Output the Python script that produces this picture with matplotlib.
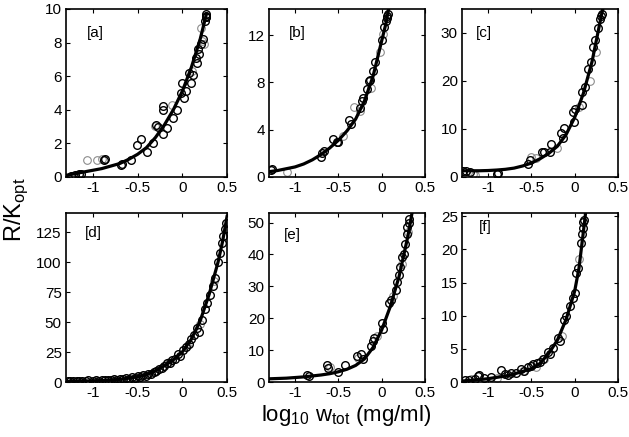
import matplotlib
matplotlib.use("Agg")
import matplotlib.pyplot as plt

plt.rcParams['font.family'] = ['Liberation Sans', 'DejaVu Sans']

# ---- panel a ----
curve_a_x = [-1.3, -1.2, -1.1, -1.0, -0.9, -0.8, -0.7, -0.6, -0.5, -0.4, -0.3, -0.2, -0.1, 0.0, 0.1, 0.2, 0.27]
curve_a_y = [0.1, 0.2, 0.3, 0.4, 0.5, 0.65, 0.8, 1.05, 1.35, 1.75, 2.35, 3.1, 4.0, 5.1, 6.5, 8.2, 9.7]
pts_a_x = [-1.24, -1.2, -1.15, -1.13, -0.87, -0.86, -0.68, -0.67, -0.57, -0.51, -0.46, -0.40, -0.33, -0.29,
           -0.27, -0.22, -0.21, -0.22, -0.17, -0.10, -0.06, -0.01, 0.0, 0.02, 0.04, 0.08, 0.10, 0.12, 0.15,
           0.17, 0.18, 0.19, 0.21, 0.23, 0.25, 0.26, 0.26, 0.27, 0.27]
pts_a_y = [0.08, 0.1, 0.2, 0.15, 1.0, 1.05, 0.7, 0.75, 1.0, 1.9, 2.25, 1.5, 2.0, 3.1, 3.0, 2.55, 4.2, 4.0,
           2.9, 3.5, 4.0, 5.0, 5.6, 4.7, 5.1, 6.2, 5.6, 6.1, 7.1, 6.8, 7.6, 7.3, 7.9, 8.2, 9.3, 9.5, 9.6, 9.7, 9.5]
gray_a_x = [-1.06, -0.95, -0.9, -0.3, -0.12, 0.11, 0.21, 0.24, 0.22]
gray_a_y = [1.0, 1.0, 1.05, 3.05, 4.3, 6.3, 8.85, 7.9, 8.1]

# ---- panel b ----
curve_b_x = [-1.3, -1.2, -1.1, -1.0, -0.9, -0.8, -0.7, -0.6, -0.5, -0.4, -0.3, -0.2, -0.1, 0.0, 0.05, 0.08]
curve_b_y = [0.45, 0.55, 0.7, 0.85, 1.1, 1.45, 1.9, 2.45, 3.1, 3.9, 4.9, 6.4, 8.5, 11.5, 13.0, 14.2]
pts_b_x = [-1.28, -1.26, -0.70, -0.69, -0.67, -0.56, -0.52, -0.50, -0.38, -0.35, -0.25, -0.23, -0.21, -0.17,
           -0.15, -0.13, -0.10, -0.08, 0.0, 0.03, 0.05, 0.06, 0.065, 0.07]
pts_b_y = [0.6, 0.65, 1.7, 2.0, 2.2, 3.2, 3.0, 2.95, 4.8, 4.5, 5.8, 6.4, 6.65, 7.4, 8.1, 8.2, 9.0, 9.7,
           11.6, 12.7, 13.2, 13.4, 13.6, 13.8]
gray_b_x = [-1.09, -0.45, -0.32, -0.25, -0.02, 0.01, -0.12]
gray_b_y = [0.45, 3.5, 5.9, 5.6, 10.6, 12.1, 7.5]

# ---- panel c ----
curve_c_x = [-1.3, -1.2, -1.1, -1.0, -0.9, -0.8, -0.7, -0.6, -0.5, -0.4, -0.3, -0.2, -0.1, 0.0, 0.1, 0.2, 0.3, 0.33]
curve_c_y = [1.3, 1.3, 1.3, 1.35, 1.45, 1.6, 1.85, 2.3, 2.9, 3.8, 4.9, 6.4, 8.8, 12.4, 17.4, 24.0, 32.9, 35.5]
pts_c_x = [-1.29, -1.25, -1.21, -0.9, -0.88, -0.54, -0.52, -0.38, -0.35, -0.29, -0.27, -0.16, -0.13, -0.12,
           -0.02, -0.01, 0.0, 0.08, 0.08, 0.12, 0.15, 0.19, 0.21, 0.24, 0.27, 0.29, 0.3, 0.31]
pts_c_y = [1.15, 1.2, 1.1, 0.6, 0.9, 2.7, 3.6, 5.2, 5.2, 5.2, 6.9, 9.2, 8.1, 10.3, 13.5, 11.5, 14.2, 17.8,
           15.1, 18.7, 22.5, 23.9, 27.1, 28.6, 31.1, 32.9, 33.5, 34.0]
gray_c_x = [-1.17, -1.15, -0.5, -0.45, -0.2, 0.05, 0.18, 0.25]
gray_c_y = [0.6, 0.5, 4.2, 4.0, 6.0, 14.5, 20.0, 26.0]

# ---- panel d ----
curve_d_x = [-1.3, -1.1, -0.9, -0.7, -0.5, -0.4, -0.3, -0.2, -0.1, 0.0, 0.1, 0.2, 0.3, 0.4, 0.45, 0.5]
curve_d_y = [0.5, 0.8, 1.2, 2.2, 4.3, 6.2, 9.3, 13.5, 18.5, 25.0, 35.5, 51.0, 73.0, 100.0, 117.0, 138.0]
pts_d_x = [-1.28, -1.25, -1.22, -1.18, -1.15, -1.12, -1.08, -1.05, -1.0, -0.97, -0.93, -0.9, -0.86, -0.83,
           -0.8, -0.76, -0.73, -0.7, -0.66, -0.63, -0.6, -0.56, -0.53, -0.5, -0.47, -0.44, -0.41, -0.38,
           -0.35, -0.32, -0.29, -0.26, -0.23, -0.2, -0.17, -0.14, -0.11, -0.08, -0.05, -0.02, 0.01, 0.04,
           0.07, 0.1, 0.13, 0.16, 0.19, 0.22, 0.25, 0.28, 0.31, 0.34, 0.37, 0.4, 0.42, 0.44, 0.46, 0.48, 0.49]
pts_d_y = [0.5, 1.0, 0.6, 0.7, 1.2, 0.8, 0.9, 1.3, 1.0, 1.5, 1.1, 1.6, 1.4, 2.0, 1.7, 2.4, 2.0, 2.8, 2.4,
           3.2, 2.9, 3.9, 3.4, 4.8, 4.4, 5.6, 5.1, 7.0, 6.6, 8.6, 9.0, 11.0, 11.8, 13.5, 15.6, 16.0, 18.2,
           19.5, 23.5, 21.5, 27.0, 29.0, 31.5, 36.0, 39.0, 44.7, 42.0, 52.0, 61.0, 66.0, 73.0, 80.0, 87.0,
           100.0, 108.0, 116.0, 122.0, 128.0, 133.0]
gray_d_x = [-1.2, -0.95, -0.75, -0.55, -0.45, -0.3, -0.15, 0.05, 0.2, 0.35]
gray_d_y = [1.2, 0.6, 1.5, 2.6, 5.0, 8.0, 16.5, 30.0, 48.0, 84.0]

# ---- panel e ----
curve_e_x = [-1.3, -1.1, -0.9, -0.8, -0.7, -0.6, -0.5, -0.4, -0.3, -0.2, -0.1, 0.0, 0.1, 0.2, 0.3, 0.35]
curve_e_y = [1.0, 1.2, 1.6, 1.9, 2.2, 2.6, 3.2, 4.0, 5.2, 7.2, 10.8, 16.3, 23.7, 33.0, 45.4, 53.0]
pts_e_x = [-0.86, -0.84, -0.63, -0.62, -0.5, -0.42, -0.29, -0.24, -0.22, -0.12, -0.1, -0.09, 0.0, 0.02,
           0.08, 0.11, 0.16, 0.18, 0.2, 0.21, 0.23, 0.26, 0.27, 0.29, 0.29, 0.31, 0.32]
pts_e_y = [2.1, 1.9, 5.2, 4.3, 3.1, 5.2, 8.2, 8.8, 7.2, 11.3, 12.9, 13.9, 18.6, 16.5, 24.7, 25.8, 28.9,
           31.4, 33.5, 36.0, 39.2, 40.2, 43.3, 46.4, 48.5, 50.0, 51.0]
gray_e_x = [-0.6, -0.27, -0.05, 0.13, 0.24, 0.3]
gray_e_y = [4.8, 7.5, 14.5, 27.0, 37.0, 47.0]

# ---- panel f ----
curve_f_x = [-1.3, -1.2, -1.1, -1.0, -0.9, -0.8, -0.7, -0.6, -0.5, -0.4, -0.3, -0.2, -0.1, 0.0, 0.05, 0.1, 0.13]
curve_f_y = [0.15, 0.25, 0.35, 0.5, 0.7, 0.9, 1.2, 1.6, 2.0, 2.8, 4.3, 6.3, 9.4, 13.7, 17.2, 22.6, 26.0]
pts_f_x = [-1.27, -1.22, -1.15, -1.12, -1.1, -1.05, -0.96, -0.85, -0.8, -0.77, -0.73, -0.68, -0.62, -0.58,
           -0.54, -0.5, -0.48, -0.44, -0.4, -0.36, -0.31, -0.29, -0.25, -0.19, -0.17, -0.12, -0.1, -0.05,
           -0.02, 0.0, 0.02, 0.04, 0.07, 0.08, 0.1, 0.1, 0.11]
pts_f_y = [0.25, 0.3, 0.5, 0.9, 1.1, 0.6, 0.76, 1.8, 1.2, 1.0, 1.4, 1.3, 1.9, 1.7, 2.3, 2.4, 2.7, 2.9, 3.0,
           3.5, 4.6, 4.3, 5.2, 6.6, 6.2, 9.4, 9.9, 11.5, 12.7, 13.4, 16.5, 17.2, 21.0, 22.3, 23.3, 24.1, 24.5]
gray_f_x = [-1.2, -0.9, -0.6, -0.45, -0.35, -0.15, 0.05]
gray_f_y = [0.4, 0.6, 1.6, 2.2, 3.4, 7.0, 18.5]

labels = ['[a]', '[b]', '[c]', '[d]', '[e]', '[f]']
y_limits = [(0, 10), (0, 14.2), (0, 35), (0, 141), (0, 53), (0, 25.5)]
y_ticks = [[0, 2, 4, 6, 8, 10], [0, 4, 8, 12], [0, 10, 20, 30],
           [0, 25, 50, 75, 100, 125], [0, 10, 20, 30, 40, 50], [0, 5, 10, 15, 20, 25]]
x_ticks = [-1, -0.5, 0, 0.5]
x_tick_labels = ['-1', '-0.5', '0', '0.5']

# panel boxes in pixels (x0, x1, y_top, y_bottom) on a 629x437 canvas
W, H = 629, 437
boxes = [(66, 227, 9, 177), (269, 425, 9, 177), (462, 618, 9, 177),
         (66, 227, 213, 382), (269, 425, 213, 382), (462, 618, 213, 382)]
label_pos = [(0.18, 0.86), (0.18, 0.86), (0.14, 0.86), (0.17, 0.88), (0.15, 0.87), (0.15, 0.92)]

curves = [(curve_a_x, curve_a_y), (curve_b_x, curve_b_y), (curve_c_x, curve_c_y),
          (curve_d_x, curve_d_y), (curve_e_x, curve_e_y), (curve_f_x, curve_f_y)]
points = [(pts_a_x, pts_a_y), (pts_b_x, pts_b_y), (pts_c_x, pts_c_y),
          (pts_d_x, pts_d_y), (pts_e_x, pts_e_y), (pts_f_x, pts_f_y)]
grays = [(gray_a_x, gray_a_y), (gray_b_x, gray_b_y), (gray_c_x, gray_c_y),
         (gray_d_x, gray_d_y), (gray_e_x, gray_e_y), (gray_f_x, gray_f_y)]

fig = plt.figure(figsize=(W / 100, H / 100), dpi=100)

for i in range(6):
    x0, x1, yt, yb = boxes[i]
    ax = fig.add_axes([x0 / W, 1 - yb / H, (x1 - x0) / W, (yb - yt) / H])
    ax.plot(*grays[i], 'o', mfc='none', mec='0.55', ms=5.5, mew=0.8)
    ax.plot(*points[i], 'o', mfc='none', mec='k', ms=5.5, mew=1.0)
    ax.plot(*curves[i], '-', color='k', lw=2.3)
    ax.set_xlim(-1.3, 0.5)
    ax.set_ylim(*y_limits[i])
    ax.set_xticks(x_ticks)
    ax.set_xticklabels(x_tick_labels)
    ax.set_yticks(y_ticks[i])
    ax.tick_params(direction='in', top=True, right=True, length=3, width=0.8,
                   labelsize=11, pad=3)
    for s in ax.spines.values():
        s.set_linewidth(1.2)
    ax.text(label_pos[i][0], label_pos[i][1], labels[i], transform=ax.transAxes,
            ha='center', va='center', fontsize=11)

fig.text(0.026, 0.52, r'R/K$_{\mathregular{opt}}$', rotation=90, ha='center', va='center', fontsize=17)
fig.text(0.55, 0.05, r'log$_{\mathregular{10}}$ w$_{\mathregular{tot}}$ (mg/ml)', ha='center', va='center', fontsize=16)

fig.savefig('out.png', dpi=100)
